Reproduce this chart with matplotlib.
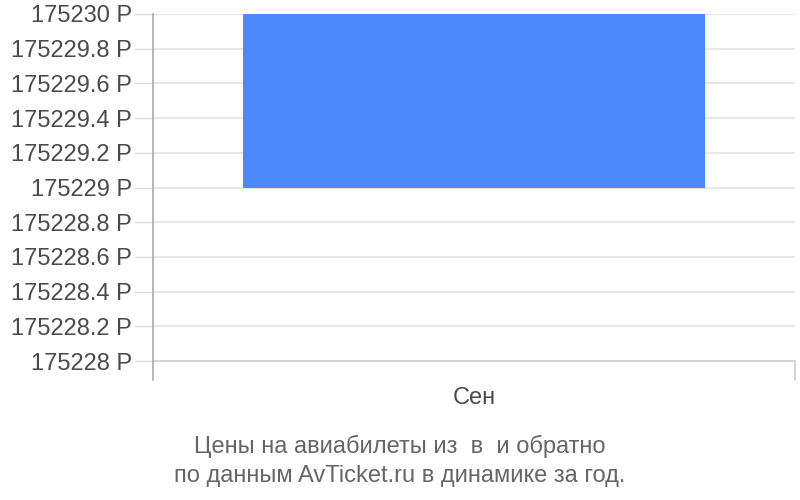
import matplotlib.pyplot as plt
import numpy as np

plt.rcParams['font.family'] = ['Liberation Sans', 'DejaVu Sans']

months = ['Сен']
price_low = [175229]
price_high = [175230]
y_ticks = [175228, 175228.2, 175228.4, 175228.6, 175228.8, 175229,
           175229.2, 175229.4, 175229.6, 175229.8, 175230]
caption = 'Цены на авиабилеты из  в  и обратно\nпо данным AvTicket.ru в динамике за год.'


def fmt(v):
    s = ('%.1f' % v).rstrip('0').rstrip('.')
    return s + ' Р'


fig = plt.figure(figsize=(8, 5), dpi=100)
ax = fig.add_axes([153 / 800, 1 - 380 / 500, 642 / 800, 366 / 500])

x = np.arange(len(months))
heights = [h - l for h, l in zip(price_high, price_low)]
ax.bar(x, heights, bottom=price_low, width=0.72, color='#4d88f9', zorder=3)

lo = y_ticks[0]
hi = y_ticks[-1]
extra = (hi - lo) * 19 / 347
ax.set_ylim(lo - extra, hi)
ax.set_xlim(-0.5, len(months) - 0.5)

ax.set_yticks(y_ticks)
ax.set_yticklabels([fmt(v) for v in y_ticks], fontsize=17, color='#4a4a4a')
ax.tick_params(axis='y', length=14, color='#dddddd', pad=1, width=1)
for v in y_ticks:
    ax.axhline(v, color='#cccccc' if v == lo else '#e3e3e3', lw=1.2, zorder=1)

ax.set_xticks(x)
ax.set_xticklabels(months, fontsize=17, color='#4a4a4a')
ax.tick_params(axis='x', length=0, pad=5)

for side in ['top', 'right', 'bottom']:
    ax.spines[side].set_visible(False)
ax.spines['left'].set_color('#aaaaaa')
ax.spines['left'].set_linewidth(1.2)
ax.axvline(len(months) - 0.5, ymin=0, ymax=extra / (hi - lo + extra),
           color='#cccccc', lw=1.2, clip_on=False)

fig.text(0.5, 1 - 461 / 500, caption, ha='center', va='center',
         fontsize=17, color='#666666', linespacing=1.45)

fig.savefig('out.png', dpi=100)
